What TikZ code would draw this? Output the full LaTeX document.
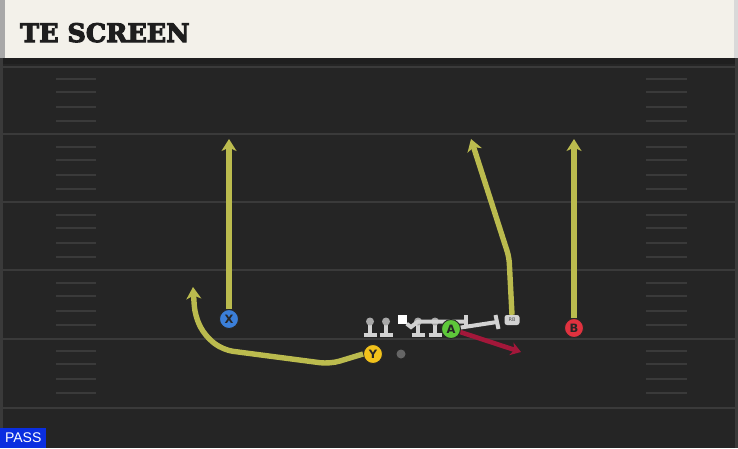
\documentclass[tikz,border=0pt]{standalone}
\usepackage{fontspec}
\setmainfont{DejaVu Sans}
\newfontfamily\titlefont[FakeBold=4]{DejaVu Serif}
\newfontfamily\tagfont{Liberation Sans}
\usetikzlibrary{arrows.meta,calc}
\definecolor{fieldbg}{HTML}{252525}
\definecolor{fieldline}{HTML}{3A3A3A}
\definecolor{headerbg}{HTML}{F3F1EA}
\definecolor{titleink}{HTML}{1E1E1E}
\definecolor{routeyellow}{HTML}{BBBB4E}
\definecolor{blockgray}{HTML}{D2D2D2}
\definecolor{ballgray}{HTML}{A8A8A8}
\definecolor{xblue}{HTML}{3B7FD9}
\definecolor{yyellow}{HTML}{F2C21B}
\definecolor{agreen}{HTML}{5EC83A}
\definecolor{bred}{HTML}{E0323F}
\definecolor{flatred}{HTML}{A3173A}
\definecolor{passblue}{HTML}{0A2EE0}
\tikzset{
    route/.style={draw=routeyellow, line width=5.4pt, rounded corners=6pt,
        -{Stealth[length=12pt,width=15pt,inset=3.5pt]}},
    redroute/.style={draw=flatred, line width=4.6pt,
        -{Stealth[length=10pt,width=13pt,inset=3pt]}},
    blockline/.style={draw=blockgray, line width=4pt},
    player/.style={circle, draw=black!85, line width=0.9pt, minimum size=19pt,
        inner sep=0pt, font=\bfseries\fontsize{11.5}{11.5}\selectfont, text=black!85},
    hashmark/.style={draw=fieldline, line width=1.6pt},
    yardline/.style={draw=fieldline, line width=2.4pt}
}
\begin{document}
\begin{tikzpicture}[x=1pt,y=-1pt]
                \useasboundingbox (0,0) rectangle (738,448);
                \fill[fieldbg] (0,0) rectangle (738,448);
                \fill[black!88] (0,58) rectangle (738,64);
                \fill[fieldline] (0,58) rectangle (3,448);
                \fill[fieldline] (735,58) rectangle (738,448);
                \foreach \ly in {67,134,202,270,339,408}
                    \draw[yardline] (3,\ly) -- (735,\ly);
                \foreach \ly in {0,68,136,204,272}
                    \foreach \dy in {79,92,107,121}
                    {
                        \draw[hashmark] (56,\ly+\dy) -- (96,\ly+\dy);
                        \draw[hashmark] (646,\ly+\dy) -- (687,\ly+\dy);
                    }
                \fill[headerbg] (0,0) rectangle (738,58);
                \fill[ballgray] (0,0) rectangle (5,58);
                \fill[black!15] (734,0) rectangle (738,58);
                \node[anchor=base west, inner sep=0pt, text=titleink,
                    font=\titlefont\bfseries\fontsize{25.5}{26}\selectfont] (title) at (20,42) {TE SCREEN};
                \foreach \lx in {370,386,418,435}
                {
                    \draw[blockgray, line width=4pt] (\lx,325) -- (\lx,333);
                    \draw[blockgray, line width=4pt] (\lx-6.5,334.5) -- (\lx+6.5,334.5);
                    \fill[ballgray] (\lx,321.5) circle (4);
                }
                \node[fill=white, minimum size=9pt, inner sep=0pt] (C) at (402,319) {};
                \draw[blockline] (C.south east) -- (411,327) -- (418,321.5) -- (466,321.5);
                \draw[blockline] (466,315) -- (466,328);
                \fill[ballgray!60!black] (401,354) circle (4.5);
                \node[fill=blockgray, rounded corners=2.5pt, minimum width=15pt, minimum height=10pt,
                    inner sep=0pt, font=\fontsize{5}{5}\selectfont, text=black!70] (RB) at (512,320) {RB};
                \node[player, fill=xblue] (X) at (229,319) {X};
                \node[player, fill=bred] (B) at (574,328) {B};
                \node[player, fill=yyellow] (Y) at (373,354) {Y};
                \coordinate (Xend) at (229,139);
                \coordinate (Bend) at (574,139);
                \coordinate (RBturn) at (509,257);
                \coordinate (RBend) at (471,139);
                \coordinate (Aend) at (521,352);
                \coordinate (Ablock) at (497,322);
                \draw[route] (X) -- (Xend);
                \draw[route] (B) -- (Bend);
                \draw[route] (RB.north) -- (RBturn) -- (RBend);
                \draw[route, rounded corners=10pt] (Y.west) -- (330,364) -- (223,350) -- (205,336)
                    -- (195,316) -- (193,287);
                \draw[redroute] (451,329) -- (Aend);
                \draw[blockline] (451,329) -- (Ablock);
                \draw[blockline] ($(Ablock)+(-1.5,-7)$) -- ($(Ablock)+(1.5,7)$);
                \node[player, fill=agreen] (A) at (451,329) {A};
                \node[fill=passblue, text=white, anchor=south west, inner sep=0pt,
                    minimum width=46pt, minimum height=20pt,
                    font=\tagfont\fontsize{14}{14}\selectfont] (play) at (0,448) {PASS};
            \end{tikzpicture}
\end{document}
